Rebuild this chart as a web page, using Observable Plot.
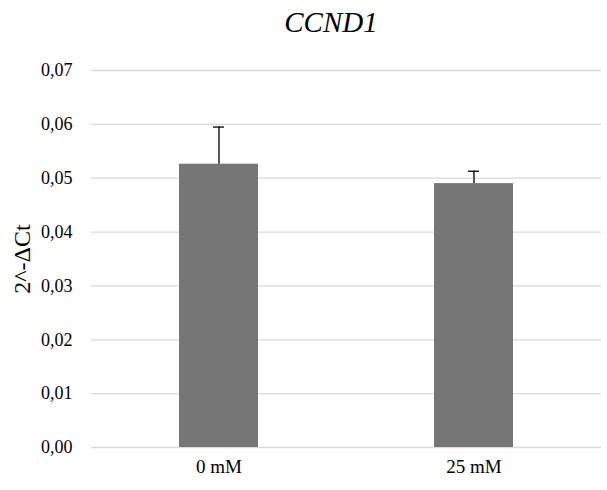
<!DOCTYPE html>
<html>
<head>
<meta charset="utf-8">
<script src="https://cdn.jsdelivr.net/npm/d3@7"></script>
<script src="https://cdn.jsdelivr.net/npm/@observablehq/plot@0.6"></script>
<style>
  html, body { margin: 0; padding: 0; background: #fff; }
  #wrap { position: relative; width: 607px; height: 490px; }
  #title { position: absolute; left: 0; top: 5px; width: 662px; text-align: center;
    font-family: "Liberation Serif", "DejaVu Serif", serif; font-style: italic;
    font-size: 29px; color: #000; line-height: 34px; }
  #wrap svg text { font-family: "Liberation Serif", "DejaVu Serif", serif; }
</style>
</head>
<body>
<div id="wrap"><div id="title">CCND1</div></div>
<script>
const categories = ["0 mM", "25 mM"];
const values = [0.0526, 0.0490];
const errors = [0.0069, 0.0023];
const yTicks = [0, 0.01, 0.02, 0.03, 0.04, 0.05, 0.06, 0.07];
const yLabel = "2^-ΔCt";

const data = categories.map((c, i) => ({cat: c, v: values[i], e: errors[i], top: values[i] + errors[i]}));
const font = "'Liberation Serif', 'DejaVu Serif', serif";

const chart = Plot.plot({
  width: 607,
  height: 490,
  marginLeft: 91,
  marginRight: 6,
  marginTop: 70,
  marginBottom: 43,
  style: {fontFamily: font, fontSize: "18px", color: "#000", background: "#fff"},
  x: {domain: categories, paddingInner: 0.69, paddingOuter: 0.345, label: null},
  y: {domain: [0, 0.07], label: null},
  marks: [
    Plot.ruleY(yTicks, {stroke: "#d9d9d9", strokeWidth: 1.3}),
    Plot.barY(data, {x: "cat", y: "v", fill: "#767676"}),
    Plot.ruleX(data, {x: "cat", y1: "v", y2: "top", stroke: "#000", strokeWidth: 1.3}),
    Plot.tickY(data, {x: "cat", y: "top", stroke: "#000", strokeWidth: 1.3, insetLeft: 34, insetRight: 34}),
    Plot.axisY({ticks: yTicks, tickSize: 0, tickPadding: 19, tickFormat: d => d.toFixed(2).replace(".", ","),
      label: null, fontSize: 18, fontFamily: font}),
    Plot.axisX({tickSize: 0, tickPadding: 12, label: null, fontSize: 19, fontFamily: font}),
    Plot.text([yLabel], {frameAnchor: "left", textAnchor: "middle", dx: -69, rotate: -90, fontSize: 24, fill: "#000", fontFamily: font})
  ]
});
document.getElementById("wrap").appendChild(chart);
</script>
</body>
</html>
